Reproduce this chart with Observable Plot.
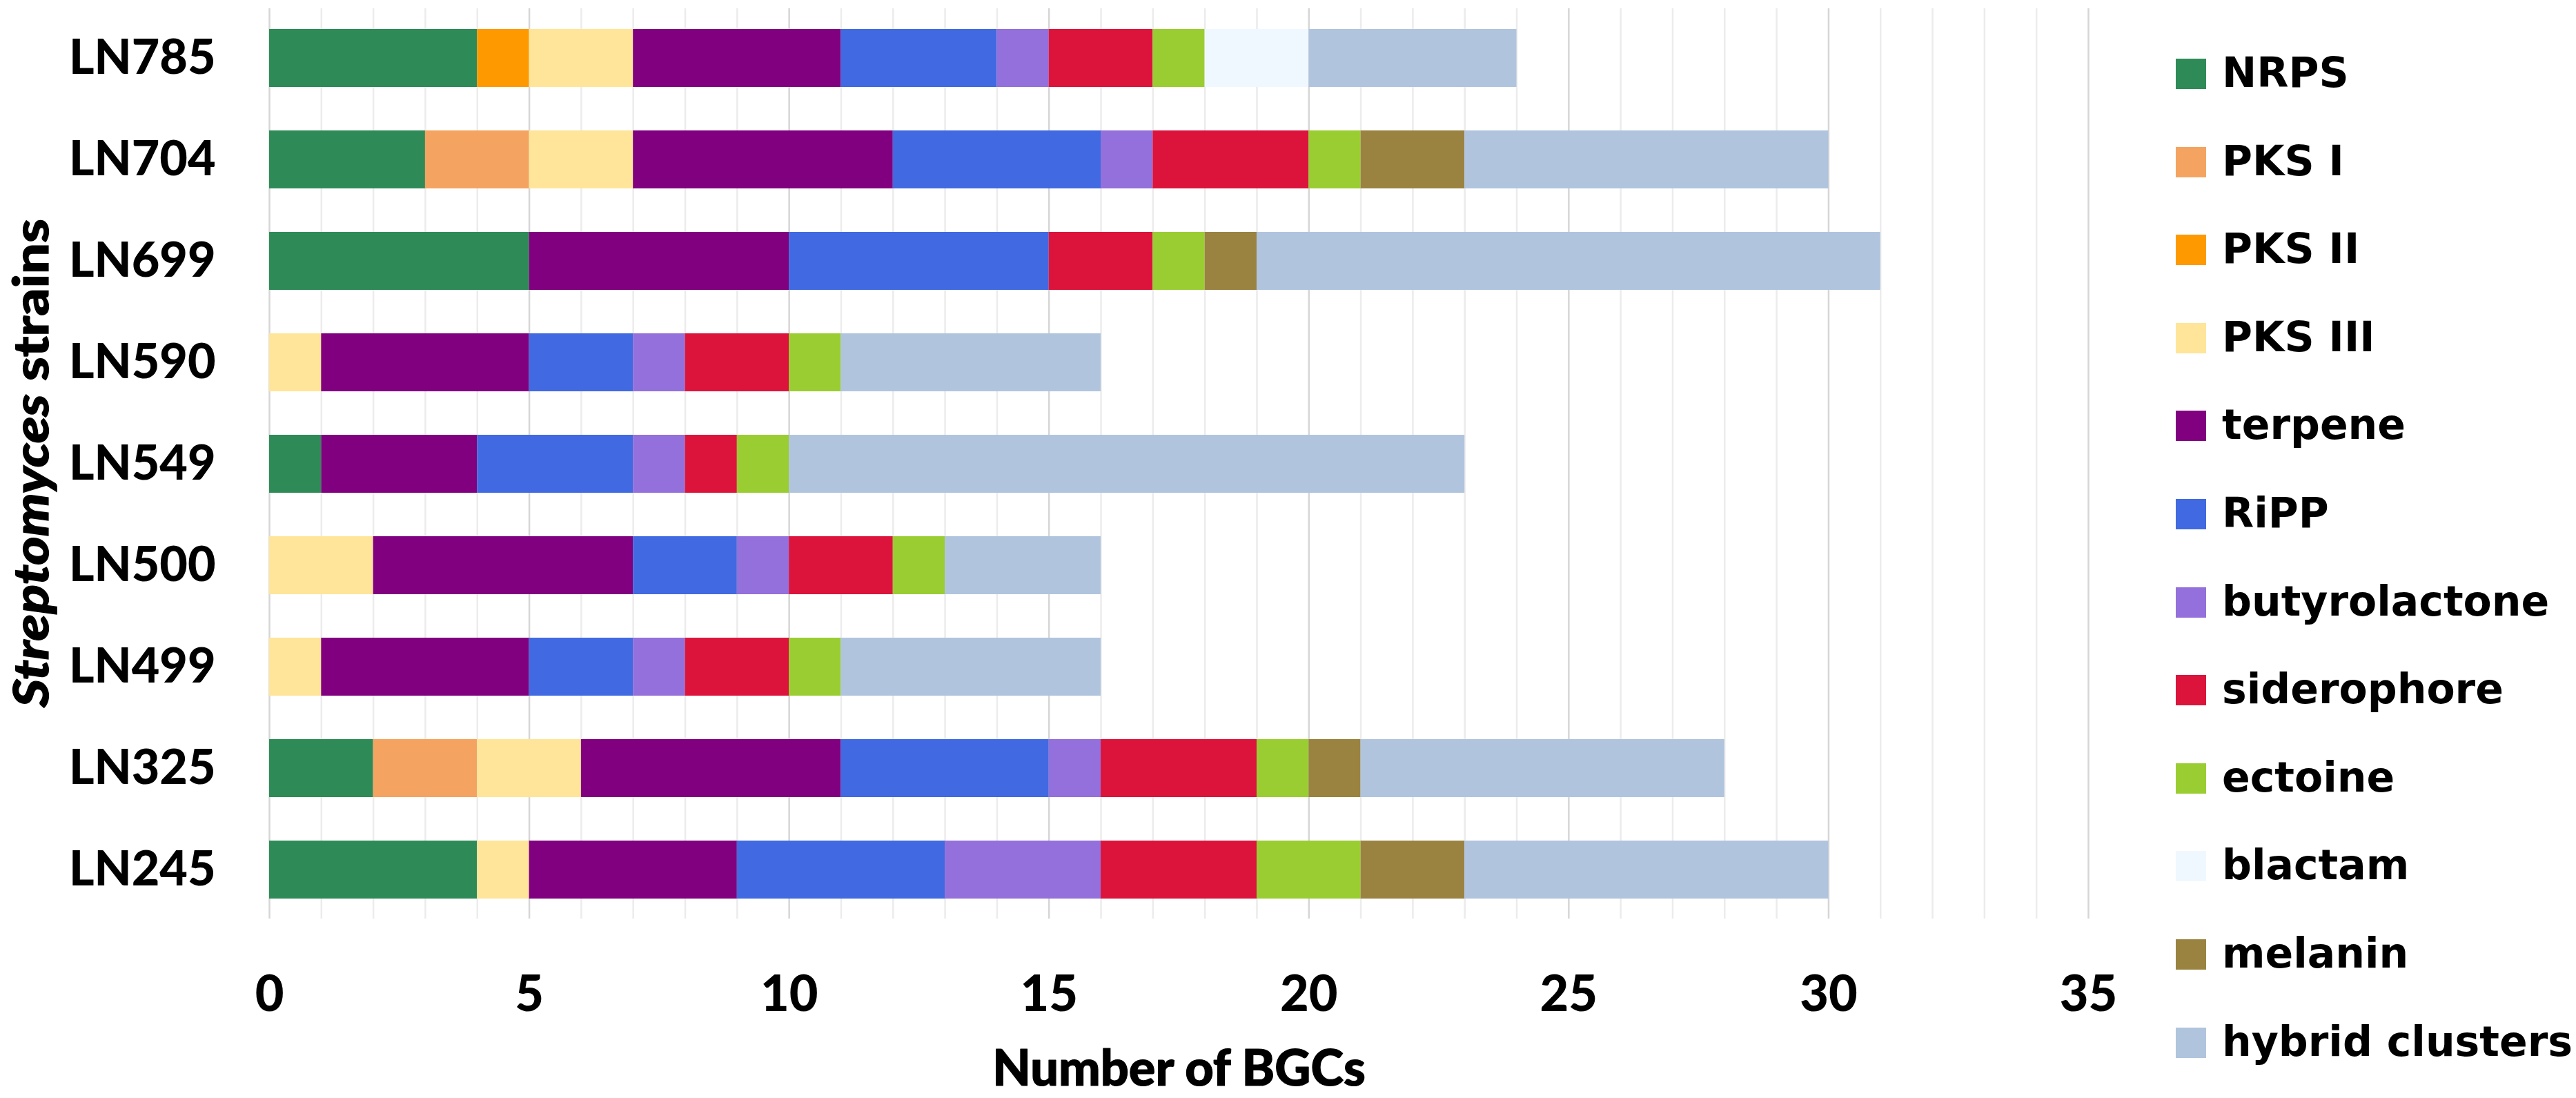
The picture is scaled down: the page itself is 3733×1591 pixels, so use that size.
<!DOCTYPE html>
<html>
<head>
<meta charset="utf-8">
<script src="https://cdn.jsdelivr.net/npm/d3@7"></script>
<script src="https://cdn.jsdelivr.net/npm/@observablehq/plot@0.6"></script>
<style>
  html, body { margin: 0; padding: 0; background: #fff; }
  #wrap { position: relative; width: 3733px; height: 1591px; overflow: hidden; }
  #legend { position: absolute; left: 3153px; top: 0; font-family: "DejaVu Sans", Verdana, sans-serif; font-weight: bold; font-size: 60px; color: #000; }
  .item { position: absolute; left: 0; height: 44px; white-space: nowrap; }
  .sw { position: absolute; left: 0; top: 0; width: 44px; height: 44px; }
  .lab { position: absolute; left: 67px; top: 50%; transform: translateY(-54%); line-height: 1; }
</style>
</head>
<body>
<div id="wrap"><div id="chart"></div><div id="legend"></div></div>
<script>
const strains = ["LN785","LN704","LN699","LN590","LN549","LN500","LN499","LN325","LN245"];
const categories = ["NRPS","PKS I","PKS II","PKS III","terpene","RiPP","butyrolactone","siderophore","ectoine","blactam","melanin","hybrid clusters"];
const colors = ["#2e8b57","#f4a460","#ff9900","#ffe599","#800080","#4169e1","#9370db","#dc143c","#9acd32","#f0f8ff","#9a8340","#b0c4de"];
// values per category, in strain order above
const NRPS          = [4,3,5,0,1,0,0,2,4];
const PKS_I         = [0,2,0,0,0,0,0,2,0];
const PKS_II        = [1,0,0,0,0,0,0,0,0];
const PKS_III       = [2,2,0,1,0,2,1,2,1];
const terpene       = [4,5,5,4,3,5,4,5,4];
const RiPP          = [3,4,5,2,3,2,2,4,4];
const butyrolactone = [1,1,0,1,1,1,1,1,3];
const siderophore   = [2,3,2,2,1,2,2,3,3];
const ectoine       = [1,1,1,1,1,1,1,1,2];
const blactam       = [2,0,0,0,0,0,0,0,0];
const melanin       = [0,2,1,0,0,0,0,1,2];
const hybrid        = [4,7,12,5,13,3,5,7,7];
const xTicks = [0,5,10,15,20,25,30,35];
const xLabel = "Number of BGCs";

const series = [NRPS,PKS_I,PKS_II,PKS_III,terpene,RiPP,butyrolactone,siderophore,ectoine,blactam,melanin,hybrid];
const table = [];
strains.forEach((s, i) => {
  categories.forEach((c, j) => {
    table.push({strain: s, category: c, value: series[j][i]});
  });
});

const W = 3733, H = 1591;
const heavy = {fontWeight: 900, stroke: "#000", strokeWidth: 1.2};
const plot = Plot.plot({
  width: W,
  height: H,
  marginLeft: 390,
  marginRight: W - 3026,
  marginTop: 12,
  marginBottom: H - 1331,
  style: {fontFamily: "Lato, 'Open Sans', sans-serif", fontWeight: "900", fontSize: "72px", color: "#000", background: "#fff"},
  x: {domain: [0, 35], label: null},
  y: {domain: strains, paddingInner: 0.43, paddingOuter: 0.174, label: null},
  color: {domain: categories, range: colors},
  marks: [
    Plot.ruleX(d3.range(0, 36), {stroke: d => d % 5 === 0 ? "#d6d6d6" : "#ececec", strokeWidth: 2.5}),
    Plot.barX(table, Plot.stackX({y: "strain", x: "value", fill: "category", order: categories})),
    Plot.axisX({ticks: xTicks, tickSize: 0, tickPadding: 82, label: null, fontSize: 72, ...heavy}),
    Plot.axisY({tickSize: 0, tickPadding: 78, label: null, fontSize: 70, ...heavy}),
    Plot.text([xLabel], {frameAnchor: "bottom", dy: 218, lineAnchor: "middle", fontSize: 72, fill: "#000", ...heavy})
  ]
});
document.getElementById("chart").appendChild(plot);

// y-axis title with italic genus name
const svg = d3.select(plot);
const yt = svg.append("text")
  .attr("transform", "translate(70,671) rotate(-90)")
  .attr("text-anchor", "middle")
  .attr("font-size", 70)
  .attr("font-weight", 900)
  .attr("stroke", "#000")
  .attr("stroke-width", 1.2)
  .attr("textLength", 708)
  .attr("lengthAdjust", "spacingAndGlyphs")
  .attr("fill", "#000");
yt.append("tspan").attr("font-style", "italic").text("Streptomyces");
yt.append("tspan").text(" strains");

// legend
const leg = d3.select("#legend");
categories.forEach((c, i) => {
  const cy = 107 + i * 127.6;
  const it = leg.append("div").attr("class", "item").style("top", (cy - 22) + "px");
  it.append("div").attr("class", "sw").style("background", colors[i]);
  it.append("div").attr("class", "lab").text(c);
});
</script>
</body>
</html>
